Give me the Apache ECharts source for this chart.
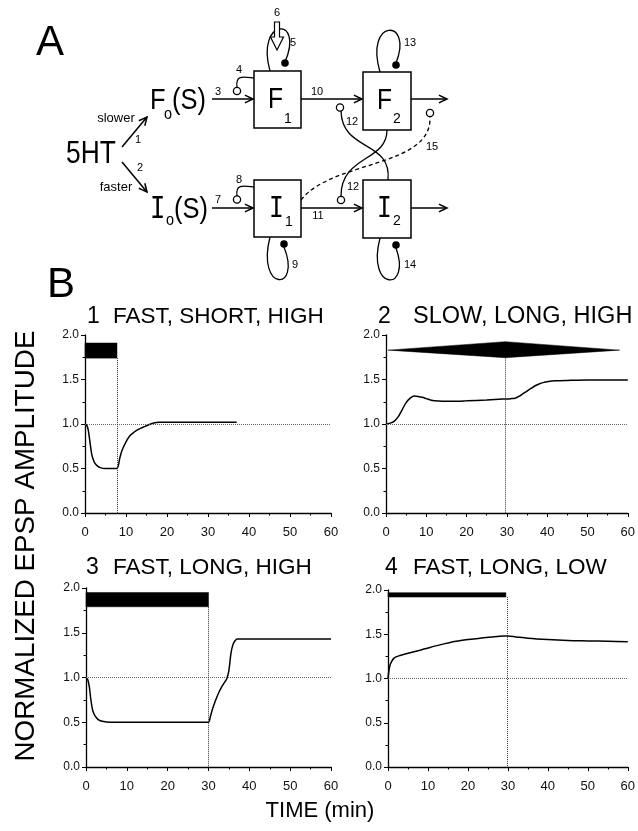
<!DOCTYPE html>
<html><head><meta charset="utf-8">
<script src="https://cdn.jsdelivr.net/npm/echarts@6/dist/echarts.min.js"></script>
<style>html,body{margin:0;padding:0;background:#fff}#c{width:638px;height:831px}</style>
</head><body><div id="c"></div>
<script>
// ---------- data ----------
const xTicks = [0, 10, 20, 30, 40, 50, 60];
const yTicks = [0.0, 0.5, 1.0, 1.5, 2.0];
const panelTitles = ['FAST, SHORT, HIGH', 'SLOW, LONG, HIGH', 'FAST, LONG, HIGH', 'FAST, LONG, LOW'];
const panelNumbers = ['1', '2', '3', '4'];

const t1 = [0, 0.5, 0.8, 1.2, 1.6, 2, 2.4, 3, 3.7, 5, 6.5, 7.8, 8.5, 9, 10, 11, 12, 13, 14, 15, 16, 17, 18, 20, 25, 30, 37];
const v1 = [1.0, 0.98, 0.93, 0.8, 0.67, 0.6, 0.56, 0.53, 0.51, 0.5, 0.5, 0.5, 0.62, 0.7, 0.8, 0.87, 0.91, 0.94, 0.96, 0.98, 1.0, 1.015, 1.02, 1.02, 1.02, 1.02, 1.02];

const t2 = [0, 1, 2, 3, 4, 5, 6, 7, 8, 9, 10, 11, 12, 14, 17, 20, 25, 29, 31, 32, 33, 34, 35, 36, 37, 38, 39, 40, 42, 45, 50, 55, 60];
const v2 = [1.0, 1.01, 1.03, 1.08, 1.16, 1.24, 1.29, 1.315, 1.31, 1.3, 1.285, 1.27, 1.26, 1.255, 1.255, 1.26, 1.27, 1.28, 1.285, 1.29, 1.31, 1.34, 1.37, 1.40, 1.43, 1.45, 1.465, 1.475, 1.485, 1.49, 1.495, 1.495, 1.495];

const t3 = [0, 0.4, 0.8, 1.2, 1.6, 2, 2.4, 3, 4, 6, 10, 20, 29.9, 30.5, 31, 31.6, 32.5, 33.3, 34, 34.5, 35, 35.5, 36, 36.5, 37, 38, 40, 50, 60];
const v3 = [1.0, 0.98, 0.9, 0.75, 0.64, 0.59, 0.56, 0.53, 0.51, 0.5, 0.5, 0.5, 0.5, 0.57, 0.65, 0.73, 0.83, 0.9, 0.95, 0.99, 1.08, 1.27, 1.37, 1.41, 1.43, 1.43, 1.43, 1.43, 1.43];

const t4 = [0, 0.2, 0.5, 1, 1.5, 2, 3, 5, 8, 10, 13, 17, 20, 23, 26, 29, 30, 32, 35, 40, 45, 50, 55, 60];
const v4 = [1.0, 1.08, 1.15, 1.2, 1.23, 1.245, 1.26, 1.285, 1.32, 1.345, 1.38, 1.42, 1.44, 1.455, 1.47, 1.48, 1.48, 1.47, 1.455, 1.44, 1.43, 1.425, 1.42, 1.415];

// stimulus bars (polygons in data units: [time, amplitude])
const stim1 = [[0, 1.74], [7.8, 1.74], [7.8, 1.91], [0, 1.91]];
const stim2 = [[0.5, 1.83], [29.6, 1.925], [58, 1.83], [29.6, 1.745]];
const stim3 = [[0, 1.79], [30, 1.79], [30, 1.95], [0, 1.95]];
const stim4 = [[0, 1.92], [29.5, 1.92], [29.5, 1.97], [0, 1.97]];
// stimulus end (time, bottom of bar)
const stimEnd = [[7.8, 1.74], [29.6, 1.745], [30, 1.79], [29.8, 1.92]];
const baseline = 1.0;

// ---------- chart ----------
const FONT = '"Liberation Sans", Arial, Helvetica, sans-serif';
const grids = [
  {left: 85, top: 335, width: 246, height: 178},
  {left: 386, top: 335, width: 245, height: 178},
  {left: 86, top: 588, width: 245, height: 179},
  {left: 388, top: 590, width: 243, height: 177}
];
const times = [t1, t2, t3, t4], vals = [v1, v2, v3, v4], stims = [stim1, stim2, stim3, stim4];

const xAxes = grids.map((g, i) => ({
  type: 'value', gridIndex: i, min: xTicks[0], max: xTicks[xTicks.length - 1], interval: xTicks[1] - xTicks[0],
  axisLine: {show: true, lineStyle: {color: '#000', width: 1.3}},
  axisTick: {show: true, length: 4, inside: false, lineStyle: {color: '#000', width: 1}},
  minorTick: {show: true, splitNumber: 2, length: 2.5, lineStyle: {color: '#000', width: 1}},
  splitLine: {show: false},
  axisLabel: {fontFamily: FONT, fontSize: 13, color: '#111', margin: 13}
}));
const yAxes = grids.map((g, i) => ({
  type: 'value', gridIndex: i, min: yTicks[0], max: yTicks[yTicks.length - 1], interval: yTicks[1] - yTicks[0],
  axisLine: {show: true, lineStyle: {color: '#000', width: 1.3}},
  axisTick: {show: true, length: 4, inside: false, lineStyle: {color: '#000', width: 1}},
  minorTick: {show: true, splitNumber: 2, length: 2.5, lineStyle: {color: '#000', width: 1}},
  splitLine: {show: false},
  axisLabel: {fontFamily: FONT, fontSize: 12, color: '#111', margin: 6, formatter: v => v.toFixed(1)}
}));

const series = [];
grids.forEach((g, i) => {
  series.push({
    type: 'line', xAxisIndex: i, yAxisIndex: i, symbol: 'none', smooth: 0.3,
    data: times[i].map((t, k) => [t, vals[i][k]]),
    lineStyle: {color: '#000', width: 1.5},
    markLine: {
      silent: true, symbol: ['none', 'none'], label: {show: false},
      data: [
        {yAxis: baseline, lineStyle: {color: '#666', type: 'dotted', width: 1}},
        [{coord: stimEnd[i], lineStyle: {color: '#333', type: 'dotted', width: 1}}, {coord: [stimEnd[i][0], 0]}]
      ]
    }
  });
  const poly = stims[i];
  series.push({
    type: 'custom', xAxisIndex: i, yAxisIndex: i, data: [[0, 0]],
    renderItem: (params, api) => ({
      type: 'polygon',
      shape: {points: poly.map(p => api.coord(p))},
      style: {fill: '#000', stroke: '#000', lineWidth: 0.5}
    })
  });
});

// ---------- diagram (panel A) + texts ----------
const G = [];
const S = {stroke: '#000', lineWidth: 1.5, fill: null};
function txt(text, x, y, size, align, family, extra) {
  G.push(Object.assign({type: 'text', x: x, y: y, z: 10, style: {text: text, font: size + 'px ' + (family || FONT), fill: '#000', textAlign: align || 'left', textVerticalAlign: 'middle'}}, extra || {}));
}
function line(x1, y1, x2, y2) { G.push({type: 'line', shape: {x1, y1, x2, y2}, style: S}); }
function arrow(x1, y1, x2, y2) {
  line(x1, y1, x2, y2);
  const a = Math.atan2(y2 - y1, x2 - x1), L = 9, s = 0.45;
  G.push({type: 'polyline', shape: {points: [[x2 - L * Math.cos(a - s), y2 - L * Math.sin(a - s)], [x2, y2], [x2 - L * Math.cos(a + s), y2 - L * Math.sin(a + s)]]}, style: S});
}
function bez(x1, y1, cpx1, cpy1, cpx2, cpy2, x2, y2, dash) {
  G.push({type: 'bezierCurve', shape: {x1, y1, cpx1, cpy1, cpx2, cpy2, x2, y2}, style: Object.assign({}, S, {lineWidth: 1.3, lineDash: dash || null})});
}
function box(x, y, w, h) { G.push({type: 'rect', shape: {x, y, width: w, height: h}, style: {fill: '#fff', stroke: '#000', lineWidth: 1.5}}); }
function openC(cx, cy) { G.push({type: 'circle', z: 5, shape: {cx, cy, r: 3.6}, style: {fill: '#fff', stroke: '#000', lineWidth: 1.3}}); }
function dot(cx, cy) { G.push({type: 'circle', z: 5, shape: {cx, cy, r: 3.8}, style: {fill: '#000'}}); }

const MONO = '"DejaVu Sans Mono", "Liberation Mono", monospace';
const NARROW = {scaleX: 0.85};
// letters
txt('A', 36, 43, 42);
txt('B', 47, 285, 42);
txt('5HT', 66, 154, 31, 'left', FONT, NARROW);
txt('slower', 116, 118, 13, 'center');
txt('faster', 116, 187, 13, 'center');
txt('1', 138, 140, 11, 'center');
txt('2', 140, 168, 11, 'center');
arrow(122, 147, 147, 117);
arrow(122, 162, 147, 192);
// F0(S), I0(S)
txt('F', 150, 101, 30, 'left', FONT, NARROW);
txt('o', 164, 114, 17, 'left', FONT, NARROW);
txt('(S)', 172, 101, 30, 'left', FONT, NARROW);
txt('I', 150, 210, 30, 'left', MONO, NARROW);
txt('o', 166, 220, 17, 'left', FONT, NARROW);
txt('(S)', 174, 210, 30, 'left', FONT, NARROW);

// curves first
bez(270, 71, 255, 18, 305, 15, 285, 62);        // 5
bez(380, 72, 364, 18, 414, 18, 396, 63);        // 13
bez(270, 237, 256, 292, 302, 292, 284, 247);    // 9
bez(380, 238, 366, 292, 412, 292, 396, 248);    // 14
bez(237, 87, 235, 74, 245, 77, 254, 78);        // 4
bez(237, 196, 235, 183, 245, 186, 254, 187);    // 8
bez(341, 111, 342, 152, 392, 140, 388, 180);    // 12 upper -> I2
bez(387, 130, 387, 162, 341, 155, 341, 196);    // F2 -> 12 lower
bez(301, 200, 332, 160, 432, 168, 430, 117, [4, 3]); // 15

// boxes
box(254, 71, 47, 57);
box(363, 72, 48, 58);
box(254, 180, 47, 57);
box(363, 180, 48, 58);
txt('F', 268, 100, 29, 'left', FONT, NARROW);
txt('1', 284, 119, 14);
txt('F', 377, 101, 29, 'left', FONT, NARROW);
txt('2', 393, 119, 14);
txt('I', 269, 209, 29, 'left', MONO, NARROW);
txt('1', 285, 222, 14);
txt('I', 377, 209, 29, 'left', MONO, NARROW);
txt('2', 393, 221, 14);

// arrows between
arrow(212, 99, 253, 99);
arrow(301, 99, 362, 99);
arrow(411, 99, 447, 99);
arrow(212, 208, 253, 208);
arrow(301, 208, 362, 208);
arrow(411, 208, 447, 208);

// hollow arrow 6
G.push({type: 'polygon', z: 6, shape: {points: [[274.5, 22], [279.5, 22], [279.5, 37], [283.5, 37], [277, 50], [270.5, 37], [274.5, 37]]}, style: {fill: '#fff', stroke: '#000', lineWidth: 1.2}});

openC(237, 91); openC(237, 199.5); openC(340, 107.5); openC(341, 200); openC(430, 113);
dot(285, 63); dot(396, 65); dot(284, 244); dot(396, 245);

// numbers
const N = 11;
txt('3', 218, 92, N, 'center');
txt('4', 239, 70, N, 'center');
txt('5', 293, 43, N, 'center');
txt('6', 277, 13, N, 'center');
txt('7', 218, 200, N, 'center');
txt('8', 239, 180, N, 'center');
txt('9', 295, 265, N, 'center');
txt('10', 317, 92, N, 'center');
txt('11', 318, 216, N, 'center');
txt('12', 352, 122, N, 'center');
txt('12', 353, 187, N, 'center');
txt('13', 410, 43, N, 'center');
txt('14', 410, 265, N, 'center');
txt('15', 432, 147, N, 'center');

// panel titles
const titlePos = [[87, 113, 317, 22.5], [378, 413, 317, 23.5], [86, 113, 568, 22.5], [385, 413, 568, 22.5]];
titlePos.forEach((p, i) => {
  txt(panelNumbers[i], p[0], p[2], 23);
  txt(panelTitles[i], p[1], p[2], p[3]);
});

// axis titles
txt('NORMALIZED EPSP AMPLITUDE', 26, 546, 27.8, 'center', FONT, {rotation: Math.PI / 2});
txt('TIME (min)', 320, 811, 22, 'center');

const chart = echarts.init(document.getElementById('c'));
chart.setOption({
  animation: false,
  backgroundColor: '#fff',
  grid: grids,
  xAxis: xAxes,
  yAxis: yAxes,
  series: series,
  graphic: {elements: G}
});
</script>
</body></html>
